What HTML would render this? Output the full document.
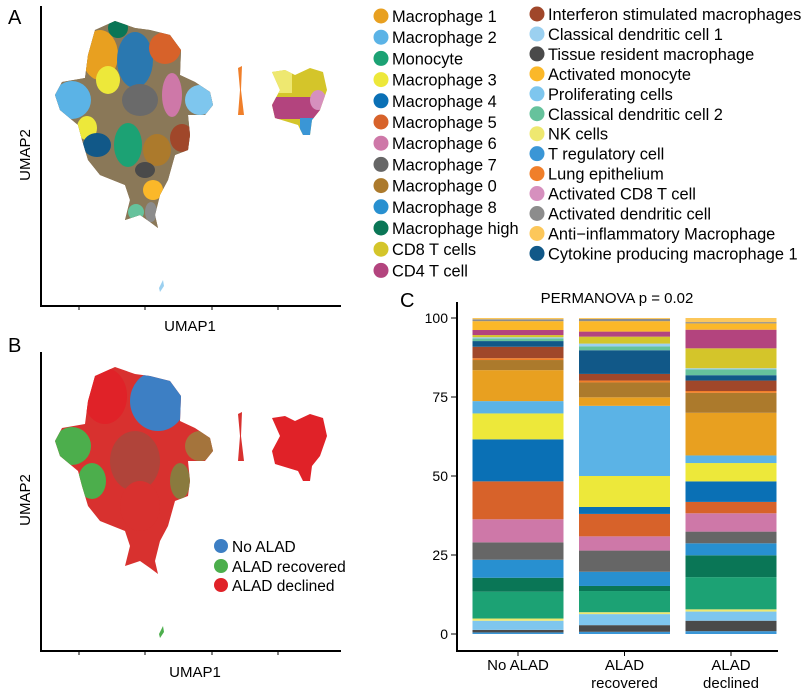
<!DOCTYPE html>
<html><head><meta charset="utf-8">
<style>
html,body{margin:0;padding:0;background:#fff;}
svg{display:block;font-family:"Liberation Sans",Arial,sans-serif;}
</style></head>
<body>
<svg id="fig" width="807" height="690" viewBox="0 0 807 690" xmlns="http://www.w3.org/2000/svg">
<defs>
<path id="body" d="M95,30 L115,21 L135,28 L150,30 L170,35 L181,50 L180,75 L195,82 L210,92 L213,105 L205,115 L188,115 L190,135 L188,150 L175,155 L168,180 L160,195 L155,215 L158,228 L150,222 L140,215 L125,220 L130,200 L125,185 L100,175 L88,160 L82,140 L78,125 L60,110 L55,95 L62,82 L85,78 L88,55 Z"/>
<path id="right" d="M272,72 L285,70 L295,75 L310,68 L323,72 L327,90 L320,110 L312,120 L310,135 L303,135 L298,125 L275,118 L272,105 L280,90 Z"/>
<clipPath id="cb"><use href="#body"/></clipPath>
<clipPath id="cr"><use href="#right"/></clipPath>
</defs>

<!-- Panel A -->
<g>
<text x="8" y="24" font-size="20">A</text>
<line x1="41" y1="6" x2="41" y2="307" stroke="#000" stroke-width="2"/>
<line x1="40" y1="306" x2="341" y2="306" stroke="#000" stroke-width="2"/>
<g stroke="#000" stroke-width="1"><line x1="79" y1="306" x2="79" y2="310"/><line x1="145" y1="306" x2="145" y2="310"/><line x1="212" y1="306" x2="212" y2="310"/><line x1="278" y1="306" x2="278" y2="310"/></g>
<text x="190" y="331" font-size="15" text-anchor="middle">UMAP1</text>
<text transform="translate(30,155) rotate(-90)" font-size="15" text-anchor="middle">UMAP2</text>
<g>
<use href="#body" fill="#8a6a50"/>
<g clip-path="url(#cb)">
<rect x="50" y="15" width="170" height="220" fill="#8a7858"/>
<ellipse cx="100" cy="55" rx="18" ry="25" fill="#E8A020"/>
<ellipse cx="135" cy="60" rx="18" ry="28" fill="#2a78b0"/>
<ellipse cx="165" cy="48" rx="16" ry="16" fill="#D7622A"/>
<circle cx="118" cy="28" r="10" fill="#0A7656"/>
<ellipse cx="108" cy="80" rx="12" ry="14" fill="#EDE83A"/>
<circle cx="72" cy="100" r="19" fill="#5BB3E6"/>
<circle cx="200" cy="100" r="15" fill="#7EC6EE"/>
<ellipse cx="87" cy="128" rx="10" ry="12" fill="#EDE83A"/>
<ellipse cx="140" cy="100" rx="18" ry="16" fill="#6a6a6a"/>
<ellipse cx="172" cy="95" rx="10" ry="22" fill="#CE78A8"/>
<ellipse cx="182" cy="138" rx="12" ry="14" fill="#A0472A"/>
<ellipse cx="157" cy="150" rx="14" ry="16" fill="#AC7A2C"/>
<ellipse cx="128" cy="145" rx="14" ry="22" fill="#1CA274"/>
<ellipse cx="97" cy="145" rx="14" ry="12" fill="#115888"/>
<ellipse cx="145" cy="170" rx="10" ry="8" fill="#4A4A4A"/>
<ellipse cx="153" cy="190" rx="10" ry="10" fill="#FBB829"/>
<ellipse cx="136" cy="212" rx="8" ry="8" fill="#66C29C"/>
<ellipse cx="151" cy="212" rx="6" ry="10" fill="#8C8C8C"/>
</g>
<path d="M238,68 L242,66 L241,90 L244,115 L238,115 L240,90 Z" fill="#F07F2A"/>
<use href="#right" fill="#D4C52A"/>
<g clip-path="url(#cr)">
<rect x="270" y="65" width="22" height="28" fill="#EEE870"/>
<rect x="270" y="97" width="50" height="22" fill="#B3447E"/>
<rect x="300" y="118" width="15" height="20" fill="#3A96D6"/>
<ellipse cx="318" cy="100" rx="8" ry="10" fill="#D690BE"/>
</g>
<path d="M159,288 L163,280 L164,286 L160,292 Z" fill="#9BD0F0"/>
</g>
</g>

<!-- Panel B -->
<g>
<text x="8" y="352" font-size="20">B</text>
<line x1="41" y1="352" x2="41" y2="652" stroke="#000" stroke-width="2"/>
<line x1="40" y1="651" x2="341" y2="651" stroke="#000" stroke-width="2"/>
<g stroke="#000" stroke-width="1"><line x1="79" y1="651" x2="79" y2="655"/><line x1="145" y1="651" x2="145" y2="655"/><line x1="212" y1="651" x2="212" y2="655"/><line x1="278" y1="651" x2="278" y2="655"/></g>
<text x="195" y="677" font-size="15" text-anchor="middle">UMAP1</text>
<text transform="translate(30,500) rotate(-90)" font-size="15" text-anchor="middle">UMAP2</text>
<g transform="translate(0,346)">
<use href="#body" fill="#d8312f"/>
<g clip-path="url(#cb)">
<ellipse cx="158" cy="55" rx="28" ry="30" fill="#3d7fc4"/>
<ellipse cx="105" cy="50" rx="22" ry="28" fill="#e02228"/>
<circle cx="72" cy="100" r="19" fill="#4cae4c"/>
<ellipse cx="92" cy="135" rx="14" ry="18" fill="#4cae4c"/>
<ellipse cx="135" cy="115" rx="25" ry="30" fill="#b0443a"/>
<ellipse cx="140" cy="160" rx="20" ry="25" fill="#d8312f"/>
<ellipse cx="180" cy="135" rx="10" ry="18" fill="#8a7a3e"/>
<circle cx="200" cy="100" r="15" fill="#a4743c"/>
</g>
<path d="M238,68 L242,66 L241,90 L244,115 L238,115 L240,90 Z" fill="#d8312f"/>
<use href="#right" fill="#e02228"/>
<path d="M159,288 L163,280 L164,286 L160,292 Z" fill="#4cae4c"/>
</g>
<g font-size="15.5">
<g><circle cx="221" cy="546" r="7" fill="#3d7fc4"/><text x="232" y="552">No ALAD</text></g>
<g><circle cx="221" cy="566" r="7" fill="#4cae4c"/><text x="232" y="572">ALAD recovered</text></g>
<g><circle cx="221" cy="585" r="7" fill="#e02228"/><text x="232" y="591">ALAD declined</text></g>
</g>
</g>

<g id="legendA" font-size="16.4"></g>

<!-- Panel C -->
<g id="panelC">
<text x="400" y="307" font-size="20">C</text>
<text x="617" y="303" font-size="15" text-anchor="middle">PERMANOVA p = 0.02</text>
<line x1="457" y1="302" x2="457" y2="652" stroke="#000" stroke-width="2"/>
<line x1="456" y1="651" x2="778" y2="651" stroke="#000" stroke-width="2"/>
<g id="bars"></g>
<g id="axes"></g>
</g>
</svg>
<script>
const cellTypes = ["T regulatory cell","Tissue resident macrophage","Proliferating cells","NK cells","Monocyte","Macrophage high","Macrophage 8","Macrophage 7","Macrophage 6","Macrophage 5","Macrophage 4","Macrophage 3","Macrophage 2","Macrophage 1","Macrophage 0","Lung epithelium","Interferon stimulated macrophages","Cytokine producing macrophage 1","Classical dendritic cell 2","Classical dendritic cell 1","CD8 T cells","CD4 T cell","Activated monocyte","Activated dendritic cell","Anti-inflammatory Macrophage"];
const groups = ["No ALAD","ALAD recovered","ALAD declined"];
const noAlad = [0.5,0.8,2.9,0.7,8.5,4.4,5.7,5.5,7.3,12,13.3,8.2,3.9,9.8,3.2,0.6,3.6,1.8,0.8,0.4,0.7,1.6,2.8,0.6,0.4];
const aladRecovered = [0.7,2.1,3.5,0.6,6.7,1.6,4.5,6.7,4.5,7.1,2.2,9.8,22.2,2.7,4.7,0.6,2.1,7.5,1.2,0.9,2.2,1.6,3.3,0.7,0.3];
const aladDeclined = [0.9,3.3,2.9,0.7,10.2,6.9,3.8,3.7,5.8,3.6,6.5,5.8,2.4,13.5,6.3,0.6,3.3,1.7,1.8,0.4,6.3,5.9,2.0,0.4,1.3];
const yTicks = [0,25,50,75,100];
const xLabelLines = [["No ALAD"],["ALAD","recovered"],["ALAD","declined"]];
const legendCol1 = ["Macrophage 1","Macrophage 2","Monocyte","Macrophage 3","Macrophage 4","Macrophage 5","Macrophage 6","Macrophage 7","Macrophage 0","Macrophage 8","Macrophage high","CD8 T cells","CD4 T cell"];
const legendCol2 = ["Interferon stimulated macrophages","Classical dendritic cell 1","Tissue resident macrophage","Activated monocyte","Proliferating cells","Classical dendritic cell 2","NK cells","T regulatory cell","Lung epithelium","Activated CD8 T cell","Activated dendritic cell","Anti\u2212inflammatory Macrophage","Cytokine producing macrophage 1"];

const colors = {"Macrophage 1":"#E8A020","Macrophage 2":"#5BB3E6","Monocyte":"#1CA274","Macrophage 3":"#EDE83A","Macrophage 4":"#0A70B5","Macrophage 5":"#D7622A","Macrophage 6":"#CE78A8","Macrophage 7":"#666666","Macrophage 0":"#AC7A2C","Macrophage 8":"#2890D0","Macrophage high":"#0A7656","CD8 T cells":"#D4C52A","CD4 T cell":"#B3447E","Interferon stimulated macrophages":"#A0472A","Classical dendritic cell 1":"#9BD0F0","Tissue resident macrophage":"#4A4A4A","Activated monocyte":"#FBB829","Proliferating cells":"#7EC6EE","Classical dendritic cell 2":"#66C29C","NK cells":"#EEE870","T regulatory cell":"#3A96D6","Lung epithelium":"#F07F2A","Activated CD8 T cell":"#D690BE","Activated dendritic cell":"#8C8C8C","Anti\u2212inflammatory Macrophage":"#FCC75A","Anti-inflammatory Macrophage":"#FCC75A","Cytokine producing macrophage 1":"#115888"};
const NS = "http://www.w3.org/2000/svg";
const yScale = v => 634 - v * 3.16;
const xCenter = i => 518 + i * 106.5;
const barW = 91;

const barsG = document.getElementById('bars');
const seriesList = [noAlad, aladRecovered, aladDeclined];
seriesList.forEach((vals, gi) => {
  let cum = 0;
  vals.forEach((v, ci) => {
    const r = document.createElementNS(NS, 'rect');
    r.setAttribute('x', xCenter(gi) - barW / 2);
    r.setAttribute('y', yScale(cum + v));
    r.setAttribute('width', barW);
    r.setAttribute('height', Math.max(0, yScale(cum) - yScale(cum + v)));
    r.setAttribute('fill', colors[cellTypes[ci]]);
    
    
    barsG.appendChild(r);
    cum += v;
  });
});
const axesG = document.getElementById('axes');
yTicks.forEach(t => {
  const l = document.createElementNS(NS, 'line');
  l.setAttribute('x1', 451); l.setAttribute('x2', 457);
  l.setAttribute('y1', yScale(t)); l.setAttribute('y2', yScale(t));
  l.setAttribute('stroke', '#000');
  
  
  axesG.appendChild(l);
  const tx = document.createElementNS(NS, 'text');
  tx.setAttribute('x', 448); tx.setAttribute('y', yScale(t) + 5);
  tx.setAttribute('text-anchor', 'end'); tx.setAttribute('font-size', '14');
  tx.textContent = t;
  
  
  axesG.appendChild(tx);
});
groups.forEach((g, i) => {
  const l = document.createElementNS(NS, 'line');
  l.setAttribute('x1', xCenter(i)); l.setAttribute('x2', xCenter(i));
  l.setAttribute('y1', 651); l.setAttribute('y2', 656);
  l.setAttribute('stroke', '#000');
  
  
  axesG.appendChild(l);
  xLabelLines[i].forEach((s, k) => {
    const tx = document.createElementNS(NS, 'text');
    tx.setAttribute('x', xCenter(i)); tx.setAttribute('y', 670 + k * 18);
    tx.setAttribute('text-anchor', 'middle'); tx.setAttribute('font-size', '15');
    tx.textContent = s;
    
    
    axesG.appendChild(tx);
  });
});
const legG = document.getElementById('legendA');
function addLegend(list, cx, y0, dy) {
  list.forEach((name, i) => {
    const g = document.createElementNS(NS, 'g');
    
    
    const c = document.createElementNS(NS, 'circle');
    c.setAttribute('cx', cx); c.setAttribute('cy', y0 + i * dy); c.setAttribute('r', 7.5);
    c.setAttribute('fill', colors[name]);
    g.appendChild(c);
    const t = document.createElementNS(NS, 'text');
    t.setAttribute('x', cx + 11); t.setAttribute('y', y0 + i * dy + 6);
    t.textContent = name;
    g.appendChild(t);
    legG.appendChild(g);
  });
}
addLegend(legendCol1, 381, 16, 21.2);
addLegend(legendCol2, 537, 14, 19.95);
</script>
</body></html>
